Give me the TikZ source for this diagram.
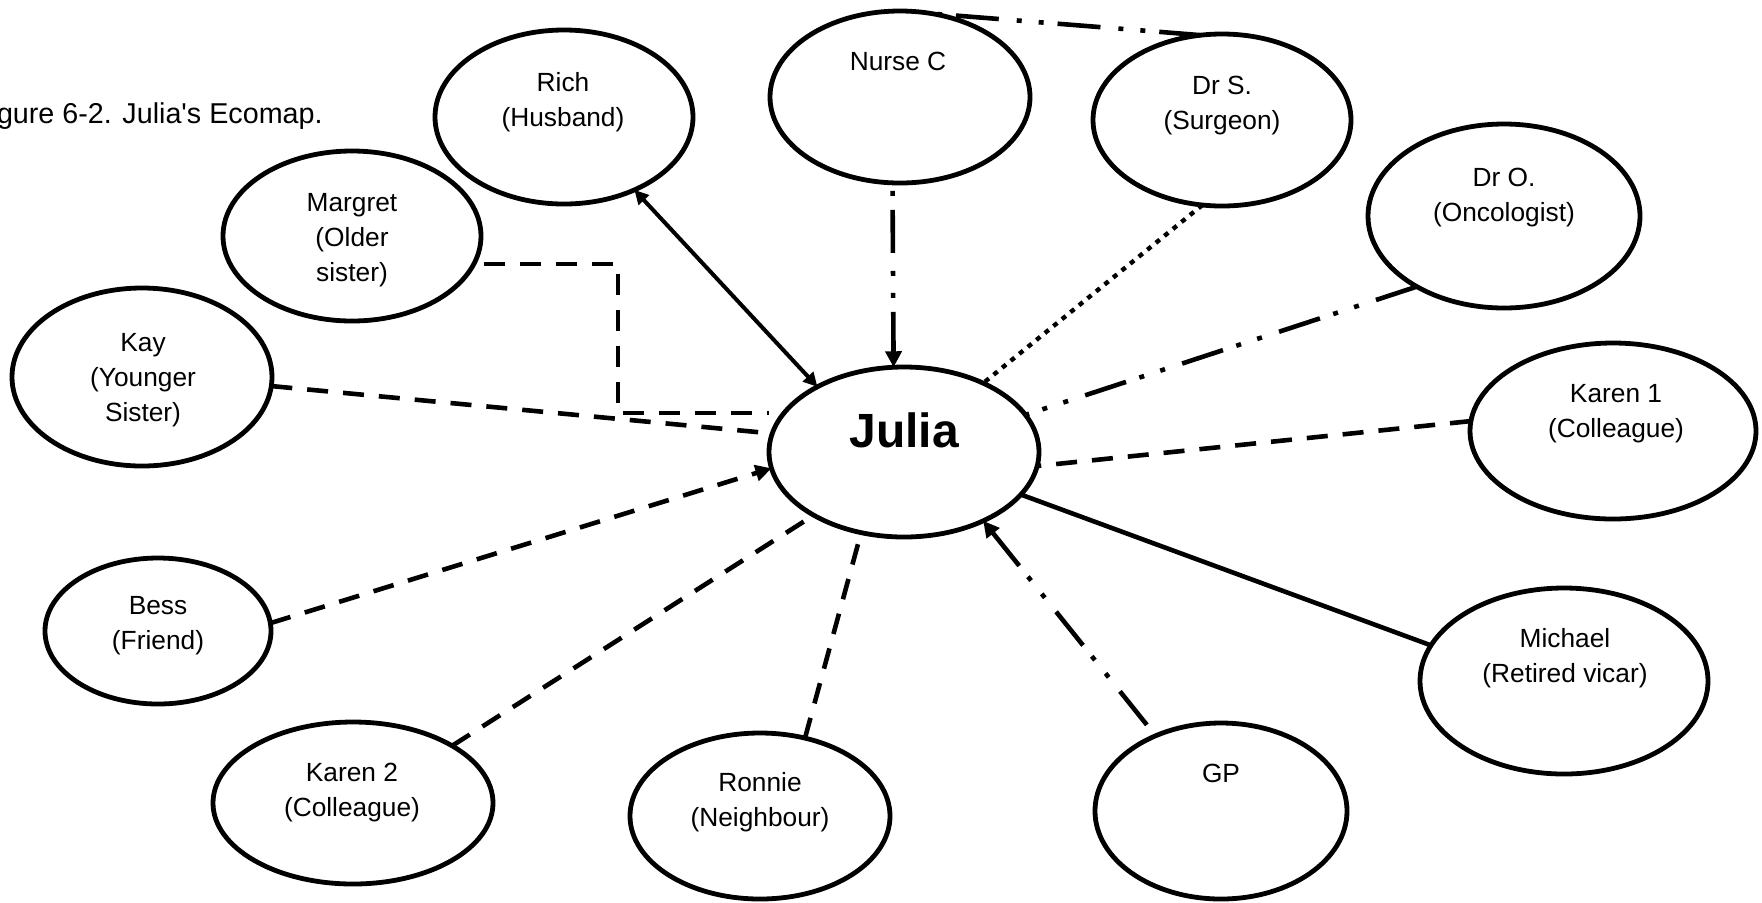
\documentclass[tikz,border=0pt]{standalone}
\usepackage{fontspec}
\setmainfont{Liberation Sans}[Ligatures=TeXOff]
\usetikzlibrary{shapes.geometric,arrows.meta}
\newcommand{\lblfont}{\fontsize{13.15}{17.5}\selectfont}
\begin{document}
\begin{tikzpicture}[x=0.5pt,y=-0.5pt,
  ell/.style 2 args={draw, ellipse, line width=2.4pt, inner sep=0pt, outer sep=0pt,
                     minimum width=#1pt, minimum height=#2pt},
  lbl/.style={anchor=north, inner sep=0pt, align=center, font=\lblfont},
  link/.style={line width=2.3pt},
  dashlink/.style={link, dash pattern=on 10.5pt off 7.5pt},
  ddlink/.style={link, dash pattern=on 21.5pt off 9pt on 2.5pt off 8.5pt on 2.5pt off 7pt},
  dotlink/.style={link, line width=2.2pt, dash pattern=on 2.5pt off 3pt},
  tip/.style={-{Triangle[length=8pt,width=8pt]}},
  bothtips/.style={{Triangle[length=7pt,width=7pt]}-{Triangle[length=7pt,width=7pt]}},
]
\useasboundingbox (0,0) rectangle (1762,902);
\fill[white] (0,0) rectangle (1762,902);

% caption
\node[anchor=base east, inner sep=0pt, font=\fontsize{14.35}{17}\selectfont] (title)
  at (323,123) {gure 6-2. Julia's Ecomap.};

% the ecomap circles
\node[ell={129}{87}] (rich)    at (564,117) {};
\node[ell={130}{86}] (nurse)   at (900,97)  {};
\node[ell={129}{86}] (drs)     at (1222,120) {};
\node[ell={136}{92}] (dro)     at (1504,216) {};
\node[ell={143}{88}] (karena)  at (1613,431) {};
\node[ell={144}{93}] (michael) at (1564,681) {};
\node[ell={126}{88}] (gp)      at (1221,811) {};
\node[ell={130}{83}] (ronnie)  at (760,816) {};
\node[ell={140}{81}] (karenb)  at (353,803) {};
\node[ell={113}{73}] (bess)    at (158,631) {};
\node[ell={130}{89}] (kay)     at (142,377) {};
\node[ell={129}{85}] (margret) at (352,236) {};
\node[ell={135}{85}] (julia)   at (904,452) {};

% names
\node[lbl] (richT)    at (563,66.5)  {\strut Rich\\\strut (Husband)};
\node[lbl] (nurseT)   at (898,45.5)  {\strut Nurse C};
\node[lbl] (drsT)     at (1222,69.5) {\strut Dr S.\\\strut (Surgeon)};
\node[lbl] (droT)     at (1504,161.5) {\strut Dr O.\\\strut (Oncologist)};
\node[lbl] (karenaT)  at (1616,377.5) {\strut Karen 1\\\strut (Colleague)};
\node[lbl] (michaelT) at (1565,622.5) {\strut Michael\\\strut (Retired vicar)};
\node[lbl] (gpT)      at (1221,757.5) {\strut GP};
\node[lbl] (ronnieT)  at (760,766.5) {\strut Ronnie\\\strut (Neighbour)};
\node[lbl] (karenbT)  at (352,756.5) {\strut Karen 2\\\strut (Colleague)};
\node[lbl] (bessT)    at (158,589.5) {\strut Bess\\\strut (Friend)};
\node[lbl] (kayT)     at (143,326.5) {\strut Kay\\\strut (Younger\\\strut Sister)};
\node[lbl] (margretT) at (352,186.5) {\strut Margret\\\strut (Older\\\strut sister)};
\node[anchor=base, inner sep=0pt, font=\fontsize{24}{28}\selectfont\bfseries] (juliaT)
  at (904,447) {Julia};

% relationships
\draw[link, line width=2pt, bothtips] (rich.-46.6) -- (julia.143.6);
\draw[ddlink, dash phase=37.5pt, tip] (nurse.-95.3) -- (julia.97.9);
\draw[ddlink, dash phase=39pt] (nurse.69.2) -- (drs.104);
\draw[dotlink] (drs.-103) -- (julia.41.6);
\draw[ddlink] (dro.-141) -- (julia.17);
\draw[dashlink] (karena.176.4) -- (julia.-6.2);
\draw[link] (michael.165.2) -- (julia.-20.6);
\draw[ddlink, dash phase=44pt, tip] (gp.131) -- (julia.-41.5);
\draw[dashlink] (ronnie.60.8) -- (julia.-118.1);
\draw[dashlink] (karenb.30.9) -- (julia.-145.5);
\draw[dashlink, tip] (bess.4.5) -- (julia.-173.3);
\draw[dashlink] (kay.-4.8) -- (julia.172);
\coordinate (mcorner) at (618,413);
\draw[dashlink, dash phase=13pt] (margret.-13.2) -| (mcorner) -- (mcorner -| julia.west);
\end{tikzpicture}
\end{document}
